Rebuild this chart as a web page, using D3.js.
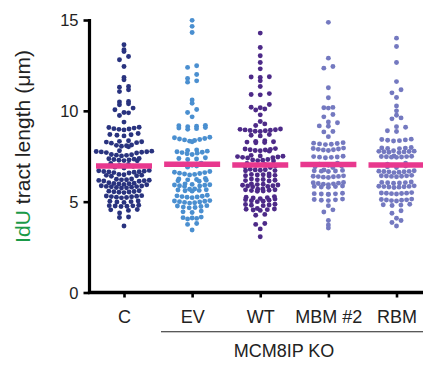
<!DOCTYPE html>
<html><head><meta charset="utf-8">
<script src="https://cdn.jsdelivr.net/npm/d3@7"></script>
<style>html,body{margin:0;padding:0;background:#fff;}svg{display:block;}</style>
</head><body>
<svg id="chart" width="423" height="366"></svg>
<script>
const categories = ["C", "EV", "WT", "MBM #2", "RBM"];
const groupLabel = "MCM8IP KO";
const yTicks = [0, 5, 10, 15];
const colors = ["#29337f", "#4a8fd0", "#4d2a88", "#7479c0", "#7479c0"];
const means = [6.97, 7.06, 7.02, 7.05, 7.02];

const valuesC = [13.64, 13.36, 13.27, 12.99, 12.81, 12.44, 11.84, 11.71, 11.34, 11.30, 11.16, 11.06, 10.51, 10.49, 10.39, 10.33, 10.15, 10.06, 9.91, 9.89, 9.74, 9.38,
 9.10, 9.08, 9.05, 9.02, 9.00, 8.98, 8.95,
 8.75, 8.70, 8.68, 8.66, 8.62,
 8.35, 8.32, 8.30, 8.28, 8.25, 8.22,
 8.12, 8.10, 8.08, 8.05, 8.02,
 7.80, 7.78, 7.76, 7.75, 7.74, 7.72, 7.70, 7.68,
 7.60, 7.58, 7.56, 7.55, 7.52,
 7.38, 7.36, 7.34, 7.32, 7.30, 7.28, 7.26, 7.25,
 7.10, 7.05, 7.00, 6.95, 6.90, 6.85,
 6.72, 6.70, 6.68, 6.66, 6.65, 6.63, 6.62, 6.60, 6.58,
 6.50, 6.48, 6.46, 6.45, 6.43, 6.40,
 6.25, 6.23, 6.21, 6.20, 6.18, 6.17, 6.15, 6.14, 6.12,
 6.04, 6.02, 6.00, 5.99, 5.97, 5.95, 5.93,
 5.88, 5.86, 5.84, 5.83, 5.82, 5.80, 5.78, 5.76, 5.75,
 5.60, 5.58, 5.56, 5.55, 5.53, 5.52, 5.50,
 5.33, 5.31, 5.30, 5.28, 5.27, 5.25, 5.23, 5.21,
 5.04, 5.02, 5.00, 4.98, 4.96,
 4.80, 4.78, 4.77, 4.76, 4.75, 4.73,
 4.57, 4.55, 4.52,
 4.38, 4.16, 4.13, 3.66];

const valuesEV = [14.98, 14.65, 14.31, 12.48, 12.39, 12.00, 11.78, 11.65, 11.58, 10.60, 10.42, 10.07, 9.91, 9.67,
 9.20, 9.18, 9.15, 9.12, 9.08, 9.05, 9.02, 8.98,
 8.55, 8.52, 8.48, 8.45, 8.42, 8.40, 8.37, 8.33, 8.30,
 7.85, 7.82, 7.78, 7.75, 7.72, 7.70, 7.67, 7.64, 7.60,
 7.42, 7.38, 7.35, 7.32,
 7.12, 7.06, 7.00, 6.96, 6.90,
 6.66, 6.62, 6.60, 6.57, 6.55, 6.52, 6.50, 6.47,
 6.28, 6.25, 6.22, 6.20, 6.18, 6.15, 6.12,
 5.98, 5.95, 5.93, 5.92, 5.90, 5.88, 5.86, 5.84,
 5.70, 5.68, 5.66, 5.64, 5.62, 5.60, 5.58,
 5.35, 5.32, 5.30, 5.28, 5.26, 5.24, 5.22,
 5.06, 5.04, 5.02, 5.00, 4.98, 4.96, 4.94, 4.92,
 4.78, 4.76, 4.73, 4.70, 4.68, 4.66,
 4.48, 4.44, 4.40,
 4.15, 4.12, 4.10, 4.08, 4.05,
 3.80, 3.75, 3.44];

const valuesWT = [14.28, 13.49, 13.03, 12.66, 12.31, 11.88, 11.86, 11.84, 11.65, 11.34, 10.95, 10.90, 10.88, 10.35, 10.20, 10.17, 10.10, 10.05, 9.78, 9.41, 9.28, 9.19,
 9.00, 8.98, 8.96, 8.95, 8.93, 8.92, 8.90, 8.88, 8.86,
 8.70, 8.66, 8.62,
 8.35, 8.32, 8.30, 8.28, 8.26, 8.24,
 7.92, 7.90, 7.88, 7.86, 7.84, 7.82, 7.80, 7.78,
 7.55, 7.52, 7.50, 7.48, 7.46, 7.44, 7.42, 7.40,
 7.32, 7.30, 7.28, 7.26, 7.24,
 7.10, 7.05, 7.00, 6.96, 6.92, 6.88,
 6.78, 6.76, 6.75, 6.73, 6.71, 6.70,
 6.52, 6.50, 6.48, 6.47, 6.45, 6.43, 6.41,
 6.25, 6.22, 6.20, 6.18, 6.16, 6.14,
 5.98, 5.96, 5.94, 5.92, 5.90, 5.88, 5.86, 5.84, 5.82,
 5.70, 5.68, 5.66, 5.65, 5.63, 5.61, 5.59, 5.57,
 5.28, 5.25, 5.22, 5.20, 5.17, 5.14, 5.11, 5.08, 5.05, 5.02, 5.00,
 4.86, 4.84, 4.82, 4.80, 4.78,
 4.62, 4.60, 4.58, 4.56, 4.54, 4.52,
 4.30, 4.25, 3.80, 3.75, 3.50, 3.07];

const valuesMBM = [14.87, 12.90, 12.44, 12.35, 11.27, 10.72, 10.19, 10.17, 10.15, 9.80, 9.67, 9.39, 9.34, 9.17, 9.15, 8.86, 8.84, 8.58,
 8.25, 8.22, 8.20, 8.18, 8.16, 8.14,
 7.95, 7.93, 7.90, 7.88, 7.86, 7.84, 7.82,
 7.50, 7.48, 7.46, 7.45, 7.44, 7.42,
 7.12, 7.06, 7.00, 6.96, 6.92, 6.88,
 6.74, 6.72, 6.70, 6.69, 6.68, 6.66,
 6.42, 6.40, 6.39, 6.38, 6.37, 6.35, 6.33,
 6.06, 6.04, 6.02, 6.00, 5.98, 5.96, 5.94,
 5.86, 5.84, 5.83, 5.81, 5.79,
 5.46, 5.44, 5.43, 5.42, 5.41, 5.40,
 5.14, 5.12, 5.10, 5.08, 5.06,
 4.78, 4.55, 4.43, 3.96, 3.72, 3.55];

const valuesRBM = [14.00, 13.54, 12.66, 11.61, 11.16, 10.99, 10.73, 10.27, 10.00, 9.76, 9.61, 9.56, 9.13, 9.10, 8.90, 8.86,
 8.44, 8.42, 8.40, 8.38, 8.36, 8.34,
 7.98, 7.96, 7.95, 7.93, 7.92,
 7.80, 7.78, 7.77, 7.76, 7.75, 7.74, 7.72, 7.70,
 7.52, 7.50, 7.49, 7.48, 7.47, 7.46, 7.45, 7.44,
 7.12, 7.06, 7.00, 6.96, 6.92, 6.88,
 6.70, 6.68, 6.67, 6.66, 6.65, 6.64, 6.62, 6.60,
 6.45, 6.43, 6.42, 6.41, 6.40, 6.39, 6.37,
 6.08, 6.06, 6.05, 6.04, 6.03, 6.01,
 5.87, 5.85, 5.84, 5.83, 5.82, 5.81, 5.80, 5.78,
 5.50, 5.48, 5.47, 5.46, 5.45, 5.44, 5.42,
 5.14, 5.12, 5.10, 5.09, 5.08, 5.06, 5.04,
 4.86, 4.83, 4.81, 4.79,
 4.50, 4.36, 4.09, 3.96, 3.85, 3.66];

const seriesValues = [valuesC, valuesEV, valuesWT, valuesMBM, valuesRBM];

const svg = d3.select("#chart");
const FONT = "'Liberation Sans', Arial, Helvetica, sans-serif";
const y = d3.scaleLinear().domain([0, 15]).range([292.5, 20]);
const x = d3.scalePoint().domain(categories).range([124, 396.5]);
const R = 2.45;

// row-based scatter layout (GraphPad style): sparse rows spread wider
function rowLayout(vals, cx) {
  const D = 2 * R + 0.15;
  const bins = d3.group(vals, v => Math.round(y(v) / (D * 0.95)));
  const out = [];
  for (const [, arr] of bins) {
    const s = arr.slice().sort((a, b) => a - b);
    const n = s.length;
    const sp = D * Math.max(1, Math.min(1.8, 7 / n));
    const offs = d3.range(n).map(k => (k - (n - 1) / 2) * sp)
      .sort((a, b) => Math.abs(a) - Math.abs(b) || a - b);
    s.forEach((v, k) => out.push({x: cx + offs[k], y: y(v)}));
  }
  return out;
}

categories.forEach((c, i) => {
  const pts = rowLayout(seriesValues[i], x(c));
  svg.append("g").selectAll("circle").data(pts).join("circle")
    .attr("cx", d => d.x).attr("cy", d => d.y).attr("r", R)
    .attr("fill", colors[i]);
});

// mean lines
svg.append("g").selectAll("line").data(categories).join("line")
  .attr("x1", c => x(c) - 28).attr("x2", c => x(c) + 28)
  .attr("y1", (c, i) => y(means[i])).attr("y2", (c, i) => y(means[i]))
  .attr("stroke", "#e8388e").attr("stroke-width", 5.5);

// y axis
const yAxis = d3.axisLeft(y).tickValues(yTicks).tickSize(6).tickPadding(5);
const gy = svg.append("g").attr("transform", "translate(89.5,0)").call(yAxis);
gy.select(".domain").attr("stroke", "#000").attr("stroke-width", 3.2).attr("d", `M0,${y(15) - 1}V${y(0) + 1.5}`);
gy.selectAll(".tick line").attr("stroke", "#000").attr("stroke-width", 2.6);
gy.selectAll(".tick text").attr("font-family", FONT).attr("font-size", 16.5).attr("fill", "#222")
  .attr("dy", "0.36em");

// x axis
const xAxis = d3.axisBottom(x).tickSize(5).tickPadding(0);
const gx = svg.append("g").attr("transform", "translate(0,292.5)").call(xAxis);
gx.select(".domain").attr("stroke", "#000").attr("stroke-width", 3.4).attr("d", `M87.9,0H423`);
gx.selectAll(".tick line").attr("stroke", "#000").attr("stroke-width", 2.6);
gx.selectAll(".tick text").attr("font-family", FONT).attr("font-size", 18).attr("fill", "#222")
  .attr("y", 30.8).attr("dy", 0);

// group bracket
svg.append("line").attr("x1", 161).attr("x2", 423).attr("y1", 331.7).attr("y2", 331.7)
  .attr("stroke", "#222").attr("stroke-width", 1.1);
svg.append("text").attr("x", 284).attr("y", 357).attr("text-anchor", "middle")
  .attr("font-family", FONT).attr("font-size", 18).attr("fill", "#222").text(groupLabel);

// y label
const yl = svg.append("text").attr("transform", "translate(29.5,146.5) rotate(-90)")
  .attr("text-anchor", "middle").attr("font-family", FONT).attr("font-size", 21).attr("fill", "#222")
  .attr("textLength", 193).attr("lengthAdjust", "spacing");
yl.append("tspan").attr("fill", "#1a9a48").text("IdU");
yl.append("tspan").text(" tract length (\u03bcm)");
</script>
</body></html>
